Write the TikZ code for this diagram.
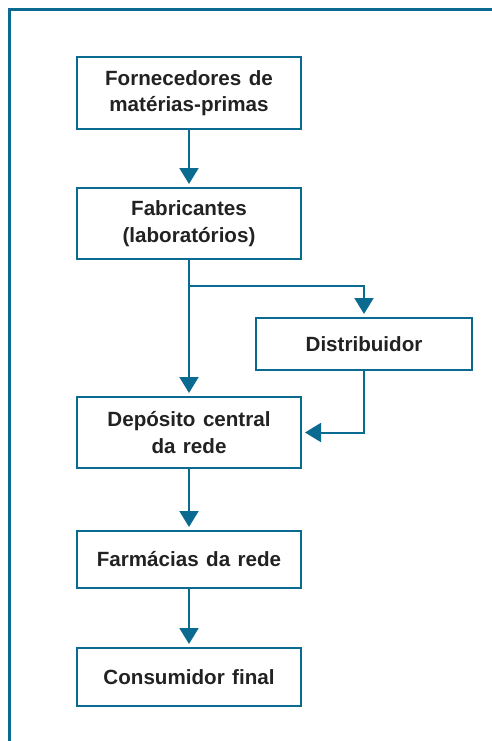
\documentclass[tikz,border=0pt]{standalone}
\usepackage{fontspec}
\setmainfont{Liberation Sans}[WordSpace=1.3]
\usetikzlibrary{arrows.meta}
\definecolor{frameblue}{HTML}{0A6A8F}
\definecolor{txt}{HTML}{222222}
\begin{document}
\begin{tikzpicture}[x=1pt,y=-1pt,
  box/.style={draw=frameblue,line width=2pt,fill=white,text=txt,align=center,
    font=\bfseries\fontsize{20.6}{26.5}\selectfont,inner sep=0pt,minimum width=224pt},
  arr/.style={draw=frameblue,line width=2pt,-{Triangle[width=19pt,length=16pt]},shorten >=3pt}]
\useasboundingbox (0,0) rectangle (491,741);
\draw[frameblue,line width=2.2pt] (9.5,760) -- (9.5,9.5) -- (520,9.5);
\node[box,minimum height=72pt] (f1) at (189,93) {Fornecedores de\\matérias-primas};
\node[box,minimum height=71pt] (f2) at (189,223.5) {Fabricantes\\(laboratórios)};
\node[box,minimum width=216pt,minimum height=52pt] (dist) at (364,344) {Distribuidor};
\node[box,minimum height=71pt] (dep) at (189,432.5) {Depósito central\\da rede};
\node[box,minimum height=57pt] (farm) at (189,559.5) {Farmácias da rede};
\node[box,minimum height=58pt] (cons) at (189,677) {Consumidor final};
\coordinate (br) at (189,286);
\draw[arr] (f1.south) -- (f2.north);
\draw[arr] (f2.south) -- (dep.north);
\draw[arr] (br) -| (dist.north);
\draw[arr] (dist.south) |- (dep.east);
\draw[arr] (dep.south) -- (farm.north);
\draw[arr] (farm.south) -- (cons.north);
\end{tikzpicture}
\end{document}
